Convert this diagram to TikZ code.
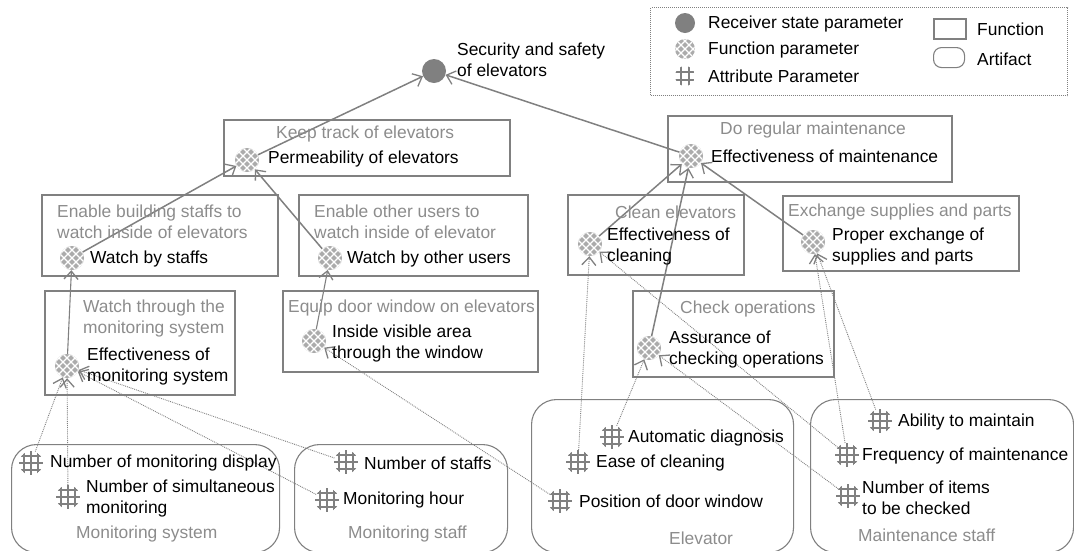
\documentclass[tikz,border=0pt]{standalone}
\usepackage{fontspec}
\setmainfont{Liberation Sans}
\usetikzlibrary{arrows.meta}
\definecolor{lg}{HTML}{808080}
\definecolor{tg}{HTML}{8C8C8C}
\newcommand{\tf}{\fontsize{17.4}{21}\selectfont}
\tikzset{
  txt/.style={anchor=west,inner sep=0pt,align=left,font=\tf,text=black},
  gtxt/.style={txt,text=tg},
  fnbox/.style={draw=lg,line width=1.5pt,anchor=north west,inner sep=0pt},
  artbox/.style={draw=lg,line width=1.1pt,anchor=north west,inner sep=0pt,rounded corners=25pt},
  rstate/.style={circle,fill=lg,minimum size=24pt,inner sep=0pt},
  fparam/.style={circle,fill=black!33,minimum size=24pt,inner sep=0pt,
    path picture={
      \foreach \k in {-32,-24,...,32}{
        \draw[white,line width=1.2pt] ([shift={(\k-20,-20)}]path picture bounding box.center) -- ++(40,40);
        \draw[white,line width=1.2pt] ([shift={(\k-20,20)}]path picture bounding box.center) -- ++(40,-40);
      }}},
  aparam/.style={circle,fill=white,minimum size=24pt,inner sep=0pt,
    path picture={
      \foreach \k in {-7,0,7}{
        \draw[lg,line width=1.7pt] ([shift={(\k,-12)}]path picture bounding box.center) -- ++(0,24);
        \draw[lg,line width=1.7pt] ([shift={(-12,\k)}]path picture bounding box.center) -- ++(24,0);
      }}},
  lparam/.style={circle,fill=white,minimum size=20pt,inner sep=0pt,
    path picture={
      \foreach \k in {-4,4}{
        \draw[lg,line width=2pt] ([shift={(\k,-10)}]path picture bounding box.center) -- ++(0,20);
        \draw[lg,line width=2pt] ([shift={(-10,\k)}]path picture bounding box.center) -- ++(20,0);
      }}},
  solid link/.style={draw=lg,line width=1.5pt,-{Straight Barb[length=8pt,width=14pt,line width=1.3pt]}},
  thin link/.style={solid link,line width=1.1pt},
  dot link/.style={draw=lg,line width=0.9pt,densely dotted,-{Straight Barb[length=8pt,width=14pt,line width=1.3pt,sep=0pt]}},
}
\begin{document}
\begin{tikzpicture}[x=1pt,y=-1pt]
\useasboundingbox (0,0) rectangle (1074,550);
% legend
\node[draw=lg,densely dotted,line width=1pt,anchor=north west,minimum width=417pt,minimum height=88pt,inner sep=0pt] (legend) at (650,7) {};
% function boxes
\node[fnbox,minimum width=286pt,minimum height=56pt] (bkeep) at (223,119) {};
\node[fnbox,minimum width=284pt,minimum height=66pt] (bdo) at (667,115) {};
\node[fnbox,line width=2pt,minimum width=236pt,minimum height=81pt] (bstaff) at (41,194) {};
\node[fnbox,line width=2pt,minimum width=229pt,minimum height=81pt] (bother) at (298,194) {};
\node[fnbox,minimum width=190pt,minimum height=104pt] (bwatch) at (44,290) {};
\node[fnbox,minimum width=255pt,minimum height=81pt] (bequip) at (282,290) {};
\node[fnbox,minimum width=176pt,minimum height=80pt] (bclean) at (567,194) {};
\node[fnbox,minimum width=236pt,minimum height=75pt] (bexch) at (782,195) {};
\node[fnbox,minimum width=201pt,minimum height=86pt] (bcheck) at (632,290) {};
% artifacts
\node[artbox,minimum width=268pt,minimum height=108pt] (amon) at (11,444) {};
\node[artbox,minimum width=213pt,minimum height=108pt] (astaff) at (294,444) {};
\node[artbox,minimum width=262pt,minimum height=153pt] (aelev) at (531,399) {};
\node[artbox,minimum width=263pt,minimum height=153pt] (amaint) at (810,399) {};
% parameter nodes
\node[rstate] (top) at (434,71) {};
\node[fparam] (f1) at (247,160) {};
\node[fparam] (f2) at (691,156) {};
\node[fparam] (f3) at (72,258) {};
\node[fparam] (f4) at (330,258) {};
\node[fparam] (f5) at (67,366) {};
\node[fparam] (f6) at (314,341) {};
\node[fparam] (f7) at (590,244) {};
\node[fparam] (f8) at (813,242) {};
\node[fparam] (f9) at (649,348) {};
\node[aparam] (a1) at (31,463) {};
\node[aparam] (a2) at (68,497) {};
\node[aparam] (a3) at (346,462) {};
\node[aparam] (a4) at (327,500) {};
\node[aparam] (a5) at (612,437) {};
\node[aparam] (a6) at (578,462) {};
\node[aparam] (a7) at (560,501) {};
\node[aparam] (a8) at (880,421) {};
\node[aparam] (a9) at (847,455) {};
\node[aparam] (a10) at (848,496) {};
% solid connectors
\draw[solid link] (f1) -- (top);
\draw[solid link] (f2) -- (top);
\draw[solid link] (f3) -- (f1);
\draw[solid link] (f4) -- (f1);
\draw[thin link] (f5) -- (f3);
\draw[thin link] (f6) -- (f4);
\draw[solid link] (f7) -- (f2);
\draw[solid link] (f9) -- (f2);
\draw[solid link] (f8) -- (f2);
% dotted connectors
\draw[dot link] (a1) -- (f5);
\draw[dot link] (a2) -- (f5);
\draw[dot link] (a3) -- (f5);
\draw[dot link] (a4) -- (f5);
\draw[dot link] (a7) -- (f6);
\draw[dot link] (a5) -- (f9);
\draw[dot link] (a10) -- (f9);
\draw[dot link] (a6) -- (f7);
\draw[dot link] (a9) -- (f7);
\draw[dot link] (a9) -- (f8);
\draw[dot link] (a8) -- (f8);
% labels
\node[txt] (t0) at (457,60) {Security and safety\\of elevators};
\node[gtxt] (t1g) at (276,134) {Keep track of elevators};
\node[txt] (t1) at (268,159) {Permeability of elevators};
\node[gtxt] (t2g) at (720,130) {Do regular maintenance};
\node[txt] (t2) at (711,156) {Effectiveness of maintenance};
\node[gtxt] (t3g) at (57,222) {Enable building staffs to\\watch inside of elevators};
\node[txt] (t3) at (90,259) {Watch by staffs};
\node[gtxt] (t4g) at (314,222) {Enable other users to\\watch inside of elevator};
\node[txt] (t4) at (347,259) {Watch by other users};
\node[gtxt] (t5g) at (83,318) {Watch through the\\monitoring system};
\node[txt] (t5) at (87,366) {Effectiveness of\\monitoring system};
\node[gtxt] (t6g) at (288,308) {Equip door window on elevators};
\node[txt] (t6) at (332,343) {Inside visible area\\through the window};
\node[gtxt] (t7g) at (615,212) {Clean elevators};
\node[txt] (t7) at (607,246) {Effectiveness of\\cleaning};
\node[gtxt] (t8g) at (788,212) {Exchange supplies and parts};
\node[txt] (t8) at (832,246) {Proper exchange of\\supplies and parts};
\node[gtxt] (t9g) at (680,309) {Check operations};
\node[txt] (t9) at (669,350) {Assurance of\\checking operations};
\node[txt] (ta1) at (50,463) {Number of monitoring display};
\node[txt] (ta2) at (86,498) {Number of simultaneous\\monitoring};
\node[gtxt] (tm) at (76,534) {Monitoring system};
\node[txt] (ta3) at (364,463) {Number of staffs};
\node[txt] (ta4) at (343,500) {Monitoring hour};
\node[gtxt] (ts) at (348,534) {Monitoring staff};
\node[txt] (ta5) at (628,438) {Automatic diagnosis};
\node[txt] (ta6) at (596,463) {Ease of cleaning};
\node[txt] (ta7) at (579,501) {Position of door window};
\node[gtxt] (te) at (669,538) {Elevator};
\node[txt] (ta8) at (898,422) {Ability to maintain};
\node[txt] (ta9) at (862,456) {Frequency of maintenance};
\node[txt] (ta10) at (862,498) {Number of items\\to be checked};
\node[gtxt] (tms) at (858,535) {Maintenance staff};
% legend contents
\node[circle,fill=lg,minimum size=20pt,inner sep=0pt] (l1) at (685,23) {};
\node[fparam,minimum size=20pt] (l2) at (685,49) {};
\node[lparam] (l3) at (685,76) {};
\node[txt] (l1t) at (708,24) {Receiver state parameter};
\node[txt] (l2t) at (708,50) {Function parameter};
\node[txt] (l3t) at (708,76) {Attribute Parameter};
\node[fnbox,minimum width=32pt,minimum height=20pt] (l4) at (933,18) {};
\node[draw=lg,line width=1.1pt,anchor=north west,rounded corners=8pt,minimum width=31pt,minimum height=20pt,inner sep=0pt] (l5) at (933,47) {};
\node[txt] (l4t) at (977,29) {Function};
\node[txt] (l5t) at (977,59) {Artifact};
\end{tikzpicture}
\end{document}
